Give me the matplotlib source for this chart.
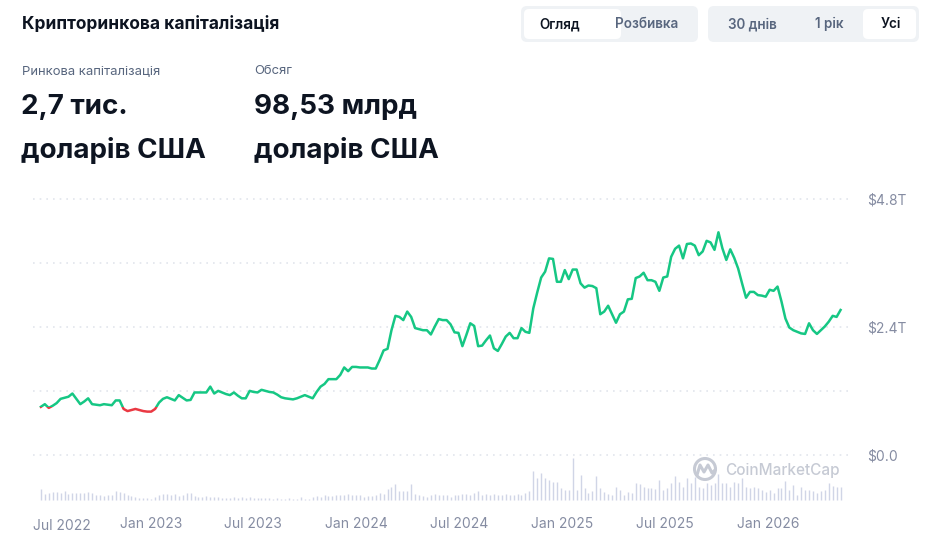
import matplotlib
matplotlib.use("Agg")
import matplotlib.pyplot as plt
import matplotlib.dates as mdates
from matplotlib.patches import Rectangle, FancyBboxPatch, Circle
import pandas as pd

plt.rcParams["font.family"] = ["Inter", "DejaVu Sans"]

green = "#16c784"
red = "#ea3943"
dark = "#0d1421"
grey = "#58667e"
axis_grey = "#858ca2"
grid_grey = "#e2e5ec"
vol_color = "#d0d5e6"
mark_grey = "#c6cad4"

# weekly total market cap, trillions USD
market_cap = [
    0.90, 0.95, 0.88, 0.92, 0.97, 1.05, 1.07, 1.09, 1.15, 1.05,
    0.95, 1.00, 1.06, 0.95, 0.94, 0.93, 0.95, 0.94, 0.93, 1.02,
    1.02, 0.86, 0.82, 0.84, 0.86, 0.84, 0.82, 0.81, 0.81, 0.86,
    0.98, 1.05, 1.08, 1.05, 1.02, 1.12, 1.07, 1.02, 1.03, 1.17,
    1.17, 1.17, 1.17, 1.28, 1.15, 1.20, 1.17, 1.14, 1.12, 1.17,
    1.11, 1.06, 1.06, 1.20, 1.18, 1.17, 1.22, 1.20, 1.18, 1.17,
    1.13, 1.08, 1.06, 1.05, 1.04, 1.06, 1.09, 1.12, 1.09, 1.06,
    1.18, 1.28, 1.33, 1.42, 1.42, 1.42, 1.50, 1.64, 1.57, 1.65,
    1.65, 1.64, 1.64, 1.64, 1.62, 1.62, 1.78, 1.96, 1.99, 2.34,
    2.61, 2.59, 2.53, 2.69, 2.59, 2.38, 2.36, 2.34, 2.34, 2.26,
    2.41, 2.55, 2.53, 2.53, 2.45, 2.30, 2.29, 2.04, 2.25, 2.47,
    2.42, 2.04, 2.05, 2.15, 2.24, 2.00, 1.95, 2.08, 2.22, 2.29,
    2.19, 2.19, 2.38, 2.31, 2.29, 2.75, 3.05, 3.33, 3.44, 3.69,
    3.68, 3.25, 3.25, 3.47, 3.30, 3.48, 3.48, 3.22, 3.14, 3.18,
    3.17, 3.13, 2.64, 2.69, 2.80, 2.64, 2.48, 2.64, 2.69, 2.92,
    2.93, 3.32, 3.35, 3.42, 3.28, 3.28, 3.25, 3.08, 3.33, 3.35,
    3.72, 3.87, 3.93, 3.69, 3.96, 3.97, 3.93, 3.75, 3.82, 4.02,
    3.99, 3.85, 4.18, 3.88, 3.66, 3.86, 3.70, 3.50, 3.22, 2.95,
    3.06, 3.06, 3.00, 2.99, 2.97, 3.10, 3.08, 3.16, 2.88, 2.56,
    2.39, 2.34, 2.31, 2.28, 2.27, 2.47, 2.34, 2.27, 2.34, 2.41,
    2.50, 2.61, 2.59, 2.72,
]

# weekly trading volume, billions USD
volume = [
    96, 54, 66, 72, 72, 66, 84, 54, 66, 66,
    60, 60, 72, 66, 48, 42, 36, 42, 48, 78,
    72, 60, 48, 36, 24, 18, 18, 18, 12, 24,
    48, 54, 54, 42, 54, 36, 42, 66, 66, 36,
    30, 30, 36, 30, 30, 24, 18, 18, 18, 24,
    18, 24, 18, 30, 18, 18, 18, 18, 18, 12,
    18, 12, 12, 18, 12, 12, 24, 6, 12, 30,
    36, 30, 42, 36, 36, 42, 48, 42, 54, 48,
    48, 42, 30, 36, 36, 48, 66, 54, 96, 120,
    144, 78, 78, 78, 144, 54, 48, 36, 30, 48,
    54, 42, 48, 42,
    30, 42, 48, 54, 54, 42, 60, 78, 48, 54,
    48, 54, 42, 48, 54, 48, 42, 54, 48, 60,
    84, 264, 195, 246, 195, 180, 165, 165, 105, 90,
    90, 378, 90, 225, 105, 66, 84, 216, 105, 75,
    54, 48, 114, 90, 45, 75, 66, 150, 144, 114,
    105, 105, 96, 180, 90, 105, 150, 216, 165, 120,
    195, 150, 210, 120, 105, 150, 135, 150, 234, 150,
    150, 120, 165, 156, 195, 120, 105, 120, 105, 90,
    75, 90, 60, 105, 105, 174, 90, 135, 45, 120,
    90, 90, 84, 66, 84, 90, 156, 126, 114, 114,
]

dates = pd.date_range("2022-06-19", periods=len(market_cap), freq="7D")

grid_levels = [0.0, 1.2, 2.4, 3.6, 4.8]
y_ticks = [0.0, 2.4, 4.8]
y_labels = ["$0.0", "$2.4T", "$4.8T"]
x_ticks = ["2022-07-01", "2023-01-01", "2023-07-01", "2024-01-01",
           "2024-07-01", "2025-01-01", "2025-07-01", "2026-01-01"]
x_labels = ["Jul 2022", "Jan 2023", "Jul 2023", "Jan 2024",
            "Jul 2024", "Jan 2025", "Jul 2025", "Jan 2026"]

W, H = 936, 552
fig = plt.figure(figsize=(W / 100, H / 100), dpi=100)

# pixel-space overlay for the header widgets
bg = fig.add_axes([0, 0, 1, 1])
bg.set_xlim(0, W)
bg.set_ylim(H, 0)
bg.axis("off")

bg.text(22, 24, "Крипторинкова капіталізація", fontsize=12.5, weight="bold",
        color=dark, va="center")
bg.text(22, 71, "Ринкова капіталізація", fontsize=9.4, color=grey, va="center")
bg.text(254, 71, "Обсяг", fontsize=9.4, color=grey, va="center")
bg.text(21, 107, "2,7 тис.", fontsize=20, weight="bold", color=dark, va="center")
bg.text(21, 150, "доларів США", fontsize=20, weight="bold", color=dark, va="center")
bg.text(254, 107, "98,53 млрд", fontsize=20, weight="bold", color=dark, va="center")
bg.text(254, 150, "доларів США", fontsize=20, weight="bold", color=dark, va="center")

# toggle groups
for x0, x1 in [(521, 698), (708, 919)]:
    bg.add_patch(FancyBboxPatch((x0 + 6, 12), x1 - x0 - 12, 24,
                                boxstyle="round,pad=6", fc="#eff2f5", ec="none"))
for x0, x1 in [(524, 621), (863, 916)]:
    bg.add_patch(FancyBboxPatch((x0 + 5, 14), x1 - x0 - 10, 20,
                                boxstyle="round,pad=5", fc="white", ec="none"))
buttons = [("Огляд", 560, dark), ("Розбивка", 647, grey), ("30 днів", 752, grey),
           ("1 рік", 829, grey), ("Усі", 891, dark)]
for label, cx, col in buttons:
    bg.text(cx, 24, label, fontsize=9.7, weight="semibold", color=col,
            ha="center", va="center")

# watermark
bg.add_patch(Circle((705, 469), 10.5, fill=False, ec=mark_grey, lw=2.2))
bg.plot([697, 700, 704, 708, 712, 715], [475, 465, 472, 465, 473, 470],
        color=mark_grey, lw=2.2, solid_capstyle="round", solid_joinstyle="round")
bg.text(725, 471, "CoinMarketCap", fontsize=11, weight="medium", color=mark_grey,
        va="center")

# main chart
left, right, top, bottom = 33, 849, 190, 505
rect = [left / W, 1 - bottom / H, (right - left) / W, (bottom - top) / H]

axv = fig.add_axes(rect)
axv.set_facecolor("none")
axv.vlines(dates, 0, volume, color=vol_color, lw=1)
per_px = max(volume) / 42.0  # tallest bar is ~42 px high, baseline 5 px above bottom
axv.set_ylim(-5 * per_px, (bottom - top - 5) * per_px)
axv.axis("off")

ax = fig.add_axes(rect, sharex=axv)
ax.set_facecolor("none")
for g in grid_levels:
    ax.axhline(g, color=grid_grey, lw=1.2, ls=(0, (1, 3)), zorder=0)

base = market_cap[0]
xnum = mdates.date2num(dates)
big = 1e5
clip_up = Rectangle((xnum[0] - big, base), 2 * big, big, transform=ax.transData)
clip_dn = Rectangle((xnum[0] - big, base - big), 2 * big, big, transform=ax.transData)
lg, = ax.plot(dates, market_cap, color=green, lw=1.8, solid_joinstyle="round")
lr, = ax.plot(dates, market_cap, color=red, lw=1.8, solid_joinstyle="round")
lg.set_clip_path(clip_up)
lr.set_clip_path(clip_dn)

ax.set_ylim(-0.945, 4.975)
ax.set_xlim(pd.Timestamp("2022-06-05"), pd.Timestamp("2026-05-25"))
for s in ax.spines.values():
    s.set_visible(False)

ax.yaxis.tick_right()
ax.set_yticks(y_ticks)
ax.set_yticklabels(y_labels)
ax.tick_params(axis="y", length=0, pad=13, labelsize=10, labelcolor=axis_grey)

ax.set_xticks(pd.to_datetime(x_ticks[1:]))
ax.set_xticklabels(x_labels[1:])
ax.tick_params(axis="x", length=0, pad=9, labelsize=10, labelcolor=axis_grey)
# first label is pinned to the left edge of the plot
ax.text(0.0, -0.045, x_labels[0], transform=ax.transAxes, fontsize=10,
        color=axis_grey, ha="left", va="top")

fig.savefig("out.png", dpi=100, facecolor="white")
